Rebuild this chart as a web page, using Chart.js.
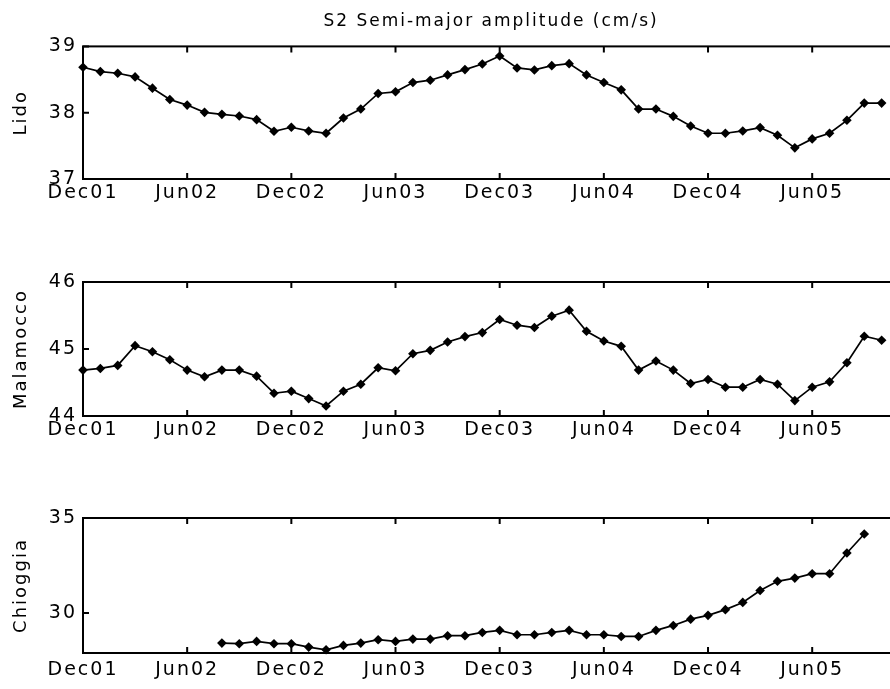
<!DOCTYPE html>
<html>
<head>
<meta charset="utf-8">
<script src="https://cdn.jsdelivr.net/npm/chart.js@4.4.1/dist/chart.umd.min.js"></script>
<style>
  html, body { margin: 0; padding: 0; background: #fff; overflow: hidden; width: 890px; height: 689px; }
  #wrap { position: relative; width: 890px; height: 689px; overflow: hidden; }
  canvas { position: absolute; left: 0; }
</style>
</head>
<body>
<div id="wrap">
  <canvas id="c1" width="920" height="210" style="top:0px"></canvas>
  <canvas id="c2" width="920" height="185" style="top:262px"></canvas>
  <canvas id="c3" width="920" height="186" style="top:498px"></canvas>
</div>
<script>
// ---- data ----
const months = [
  'Dec01','Jan02','Feb02','Mar02','Apr02','May02','Jun02','Jul02','Aug02','Sep02','Oct02','Nov02',
  'Dec02','Jan03','Feb03','Mar03','Apr03','May03','Jun03','Jul03','Aug03','Sep03','Oct03','Nov03',
  'Dec03','Jan04','Feb04','Mar04','Apr04','May04','Jun04','Jul04','Aug04','Sep04','Oct04','Nov04',
  'Dec04','Jan05','Feb05','Mar05','Apr05','May05','Jun05','Jul05','Aug05','Sep05','Oct05','Nov05'
];
const tickLabels = ['Dec01','Jun02','Dec02','Jun03','Dec03','Jun04','Dec04','Jun05'];

const lido = [38.685, 38.62, 38.595, 38.54, 38.37, 38.20, 38.115, 38.005, 37.975, 37.95, 37.895, 37.72,
  37.78, 37.725, 37.69, 37.92, 38.055, 38.29, 38.315, 38.455, 38.49, 38.57, 38.65, 38.735,
  38.855, 38.675, 38.645, 38.71, 38.74, 38.57, 38.455, 38.345, 38.055, 38.055, 37.945, 37.80,
  37.69, 37.69, 37.725, 37.775, 37.66, 37.47, 37.605, 37.69, 37.885, 38.145, 38.145];
const malamocco = [44.685, 44.71, 44.755, 45.05, 44.96, 44.84, 44.685, 44.585, 44.685, 44.685, 44.595, 44.34,
  44.37, 44.26, 44.15, 44.37, 44.475, 44.72, 44.675, 44.93, 44.98, 45.105, 45.185, 45.245,
  45.44, 45.355, 45.32, 45.49, 45.58, 45.265, 45.12, 45.04, 44.685, 44.82, 44.685, 44.485,
  44.545, 44.43, 44.43, 44.545, 44.475, 44.23, 44.43, 44.51, 44.795, 45.19, 45.13];
const chioggia = [null, null, null, null, null, null, null, null, 28.42, 28.39, 28.51, 28.39,
  28.39, 28.21, 28.07, 28.30, 28.42, 28.60, 28.51, 28.63, 28.63, 28.81, 28.81, 28.98,
  29.09, 28.86, 28.86, 28.98, 29.09, 28.86, 28.86, 28.77, 28.77, 29.09, 29.35, 29.68,
  29.88, 30.18, 30.56, 31.19, 31.67, 31.84, 32.07, 32.07, 33.16, 34.16, null];

const lidoTicks = [37, 38, 39];
const malamoccoTicks = [44, 45, 46];
const chioggiaTicks = [30, 35];

const FONT = 'DejaVu Sans';

// letter spacing to mimic the wide bitmap font
const spacingPlugin = {
  id: 'spacing',
  beforeUpdate(chart) { chart.ctx.letterSpacing = '2px'; },
  beforeLayout(chart) { chart.ctx.letterSpacing = '2px'; },
  beforeDraw(chart) { chart.ctx.letterSpacing = '2px'; }
};

// MATLAB-style box with inward ticks
const boxPlugin = {
  id: 'matlabBox',
  afterDraw(chart) {
    const { ctx, chartArea: { left, right, top, bottom }, scales: { x, y } } = chart;
    ctx.save();
    ctx.strokeStyle = '#000';
    ctx.lineWidth = 2;
    ctx.strokeRect(left, top, right - left, bottom - top);
    ctx.beginPath();
    x.ticks.forEach((t, i) => {
      const lab = months[t.value];
      if (tickLabels.includes(lab)) {
        const px = x.getPixelForTick(i);
        ctx.moveTo(px, bottom); ctx.lineTo(px, bottom - 6);
        ctx.moveTo(px, top); ctx.lineTo(px, top + 6);
      }
    });
    y.ticks.forEach((t, i) => {
      const py = y.getPixelForTick(i);
      ctx.moveTo(left, py); ctx.lineTo(left + 6, py);
      ctx.moveTo(right, py); ctx.lineTo(right - 6, py);
    });
    ctx.stroke();
    ctx.restore();
  }
};

function makePanel(id, values, yTicks, yMin, yMax, yTitle, withTitle, padTop, xPad) {
  return new Chart(document.getElementById(id), {
    type: 'line',
    data: {
      labels: months,
      datasets: [{
        data: values,
        borderColor: '#000',
        backgroundColor: '#000',
        borderWidth: 1.7,
        pointStyle: 'rectRot',
        pointRadius: 4.8,
        pointHoverRadius: 4.8,
        pointBackgroundColor: '#000',
        pointBorderColor: '#000',
        pointBorderWidth: 0,
        tension: 0,
        spanGaps: false,
        clip: false
      }]
    },
    options: {
      responsive: false,
      animation: false,
      devicePixelRatio: 1,
      events: [],
      layout: { padding: { top: padTop, right: 21, left: 0, bottom: 0 } },
      plugins: {
        legend: { display: false },
        tooltip: { enabled: false },
        title: {
          display: withTitle,
          fullSize: false,
          align: 'center',
          text: 'S2 Semi-major amplitude (cm/s)',
          color: '#000',
          font: { family: FONT, size: 17, weight: 'normal', lineHeight: 1.2 },
          padding: { top: 11, bottom: 15 }
        }
      },
      scales: {
        x: {
          type: 'category',
          offset: false,
          grid: { display: false, drawTicks: false },
          border: { display: false },
          afterFit(scale) { scale.height = 31; },
          ticks: {
            autoSkip: false,
            maxRotation: 0,
            minRotation: 0,
            padding: xPad,
            color: '#000',
            font: { family: FONT, size: 19 },
            callback(value) {
              const lab = months[value];
              return tickLabels.includes(lab) ? lab : '';
            }
          }
        },
        y: {
          min: yMin,
          max: yMax,
          grid: { display: false, drawTicks: false },
          border: { display: false },
          afterFit(scale) { scale.width = 83; },
          afterBuildTicks(scale) { scale.ticks = yTicks.map(v => ({ value: v })); },
          ticks: {
            padding: 6,
            color: '#000',
            font: { family: FONT, size: 19 },
            callback(v) { return String(v); }
          },
          title: {
            display: true,
            text: yTitle,
            color: '#000',
            font: { family: FONT, size: 18, lineHeight: 1.2 },
            padding: { top: 11, bottom: 0 }
          }
        }
      }
    },
    plugins: [spacingPlugin, boxPlugin]
  });
}

makePanel('c1', lido, lidoTicks, 37, 39, 'Lido', true, 0, 3);
makePanel('c2', malamocco, malamoccoTicks, 44, 46, 'Malamocco', false, 20, 3);
makePanel('c3', chioggia, chioggiaTicks, 27.9, 35, 'Chioggia', false, 20, 6);
</script>
</body>
</html>
